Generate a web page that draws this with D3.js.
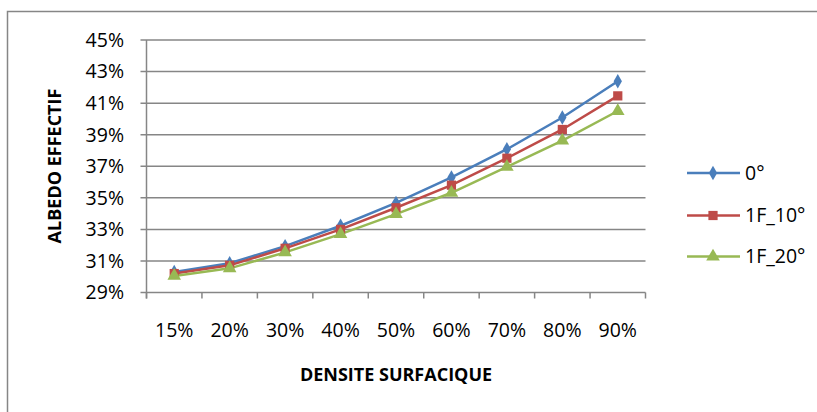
<!DOCTYPE html>
<html><head><meta charset="utf-8">
<script src="https://cdn.jsdelivr.net/npm/d3@7"></script>
<style>body{margin:0;background:#fff;overflow:hidden}svg{display:block}text{font-family:"Open Sans",sans-serif;fill:#000}</style>
</head><body><svg id="c" width="817" height="412"></svg>
<script>
const categories = ["15%","20%","30%","40%","50%","60%","70%","80%","90%"];
const seriesNames = ["0°","1F_10°","1F_20°"];
const s0 = [30.30, 30.85, 31.94, 33.23, 34.68, 36.29, 38.08, 40.09, 42.39];
const s10 = [30.20, 30.72, 31.80, 33.00, 34.37, 35.80, 37.51, 39.33, 41.46];
const s20 = [30.05, 30.53, 31.54, 32.70, 33.97, 35.32, 36.96, 38.63, 40.50];
const yTicks = [29,31,33,35,37,39,41,43,45];
const colors = ["#4A7EBB","#BE4B48","#98B954"];
const symbols = [d3.symbolDiamond, d3.symbolSquare, d3.symbolTriangle];
const symSizes = [60, 85, 80];

const svg = d3.select("#c");
svg.append("rect").attr("x",7.5).attr("y",11.5).attr("width",900).attr("height",500)
  .attr("fill","none").attr("stroke","#868686").attr("stroke-width",1.5);

const L=146.5, R=645.5, T=40, B=292.5;
const x = d3.scaleBand().domain(categories).range([L,R]);
const y = d3.scaleLinear().domain([29,45]).range([B,T]);

const g = svg.append("g");
g.selectAll(".grid").data(yTicks).join("line")
  .attr("x1",L-6).attr("x2",R).attr("y1",d=>y(d)).attr("y2",d=>y(d))
  .attr("stroke","#868686").attr("stroke-width",1.5);
g.append("line").attr("x1",L).attr("x2",L).attr("y1",T).attr("y2",B+6).attr("stroke","#868686").attr("stroke-width",1.5);
const xb = categories.map(c=>x(c)).concat([R]);
g.selectAll(".xt").data(xb).join("line")
  .attr("x1",d=>d).attr("x2",d=>d).attr("y1",B).attr("y2",B+6)
  .attr("stroke","#868686").attr("stroke-width",1.5);
g.selectAll(".yl").data(yTicks).join("text")
  .attr("x",124).attr("y",d=>y(d)).attr("dy","0.35em").attr("text-anchor","end")
  .attr("font-size",19.5).text(d=>d+"%");
g.selectAll(".xl").data(categories).join("text")
  .attr("x",d=>x(d)+x.bandwidth()/2).attr("y",330).attr("dy","0.35em").attr("text-anchor","middle")
  .attr("font-size",19.5).text(d=>d);
svg.append("text").attr("x",396).attr("y",375).attr("dy","0.35em").attr("text-anchor","middle")
  .attr("font-size",18).attr("font-weight","bold").text("DENSITE SURFACIQUE");
svg.append("text").attr("transform","translate(55,166) rotate(-90)").attr("dy","0.35em").attr("text-anchor","middle")
  .attr("font-size",18).attr("font-weight","bold").text("ALBEDO EFFECTIF");

const data = [s0,s10,s20];
const line = d3.line().x((d,i)=>x(categories[i])+x.bandwidth()/2).y(d=>y(d));
data.forEach((s,k)=>{
  g.append("path").datum(s).attr("d",line).attr("fill","none").attr("stroke",colors[k]).attr("stroke-width",2.5);
});
data.forEach((s,k)=>{
  g.selectAll(".m"+k).data(s).join("path")
    .attr("transform",(d,i)=>`translate(${x(categories[i])+x.bandwidth()/2},${y(d)})`)
    .attr("d",d3.symbol().type(symbols[k]).size(symSizes[k])).attr("fill",colors[k]);
});
const ly = [173, 215.5, 256.5];
seriesNames.forEach((n,k)=>{
  const lg = svg.append("g").attr("transform",`translate(0,${ly[k]})`);
  lg.append("line").attr("x1",687).attr("x2",740).attr("stroke",colors[k]).attr("stroke-width",2.5);
  lg.append("path").attr("transform","translate(713,0)").attr("d",d3.symbol().type(symbols[k]).size(symSizes[k])).attr("fill",colors[k]);
  lg.append("text").attr("x",745).attr("dy","0.35em").attr("font-size",19.5).text(n);
});
</script></body></html>
